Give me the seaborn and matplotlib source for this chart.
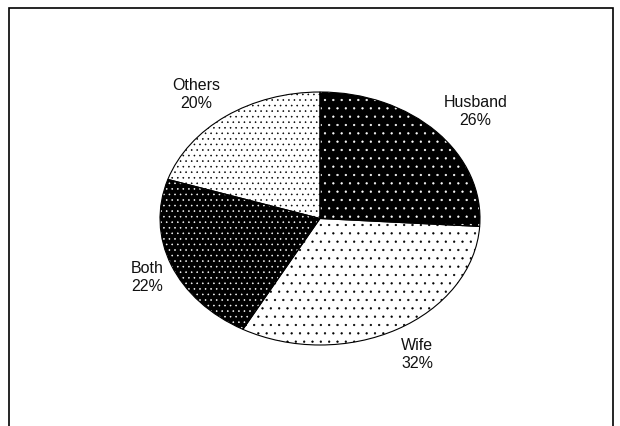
import matplotlib
matplotlib.use("Agg")
import matplotlib.pyplot as plt
import matplotlib.transforms as mtransforms
import numpy as np
import seaborn as sns
from matplotlib.patches import Rectangle

# Who takes the decision: share of respondents
categories = ["Husband", "Wife", "Both", "Others"]
shares = [26, 32, 22, 20]

sns.set_theme(style="white")
plt.rcParams["font.family"] = ["Liberation Sans", "DejaVu Sans"]
plt.rcParams["hatch.linewidth"] = 0.4

# Black-and-white dotted fills, one per slice
face_colors = ["black", "white", "black", "white"]
dot_colors = ["white", "black", "white", "black"]
hatches = ["..", "..", "...", "..."]
label_dist = [1.30, 1.22, 1.17, 1.265]
label_nudge_px = [(4, -5), (3, 0), (1, -4), (-5, -4)]

W, H = 620, 427
fig = plt.figure(figsize=(W / 100, H / 100), dpi=100)

# Axes box sized so the unit pie becomes a wide ellipse
cx, cy, rx, ry = 320, 219.5, 160, 126.5
pad = 1.1
ax = fig.add_axes([(cx - pad * rx) / W, (H - cy - pad * ry) / H,
                   2 * pad * rx / W, 2 * pad * ry / H])

wedges, _ = ax.pie(shares, startangle=90, counterclock=False,
                   colors=face_colors, hatch=hatches,
                   wedgeprops=dict(linewidth=0))
for w, c in zip(wedges, dot_colors):
    w.set_edgecolor(c)

# Black outlines drawn on top of the dotted fills
ax.pie(shares, startangle=90, counterclock=False,
       wedgeprops=dict(fill=False, edgecolor="black", linewidth=0.8))

ax.set_aspect("auto")
ax.set_xlim(-pad, pad)
ax.set_ylim(-pad, pad)
ax.axis("off")

for w, cat, val, d, (nx, ny) in zip(wedges, categories, shares,
                                     label_dist, label_nudge_px):
    mid = np.deg2rad((w.theta1 + w.theta2) / 2)
    tr = mtransforms.offset_copy(ax.transData, fig=fig, x=nx, y=ny,
                                 units="dots")
    ax.text(d * np.cos(mid), d * np.sin(mid), f"{cat}\n{val}%",
            transform=tr, ha="center", va="center", fontsize=11.5,
            linespacing=1.25, color="#111111")

# Chart-area border
fig.patches.append(Rectangle((9 / W, -0.1), (613 - 9) / W, (H - 9) / H + 0.1,
                             transform=fig.transFigure, fill=False,
                             edgecolor="black", linewidth=1.2))

fig.savefig("out.png", dpi=100)
